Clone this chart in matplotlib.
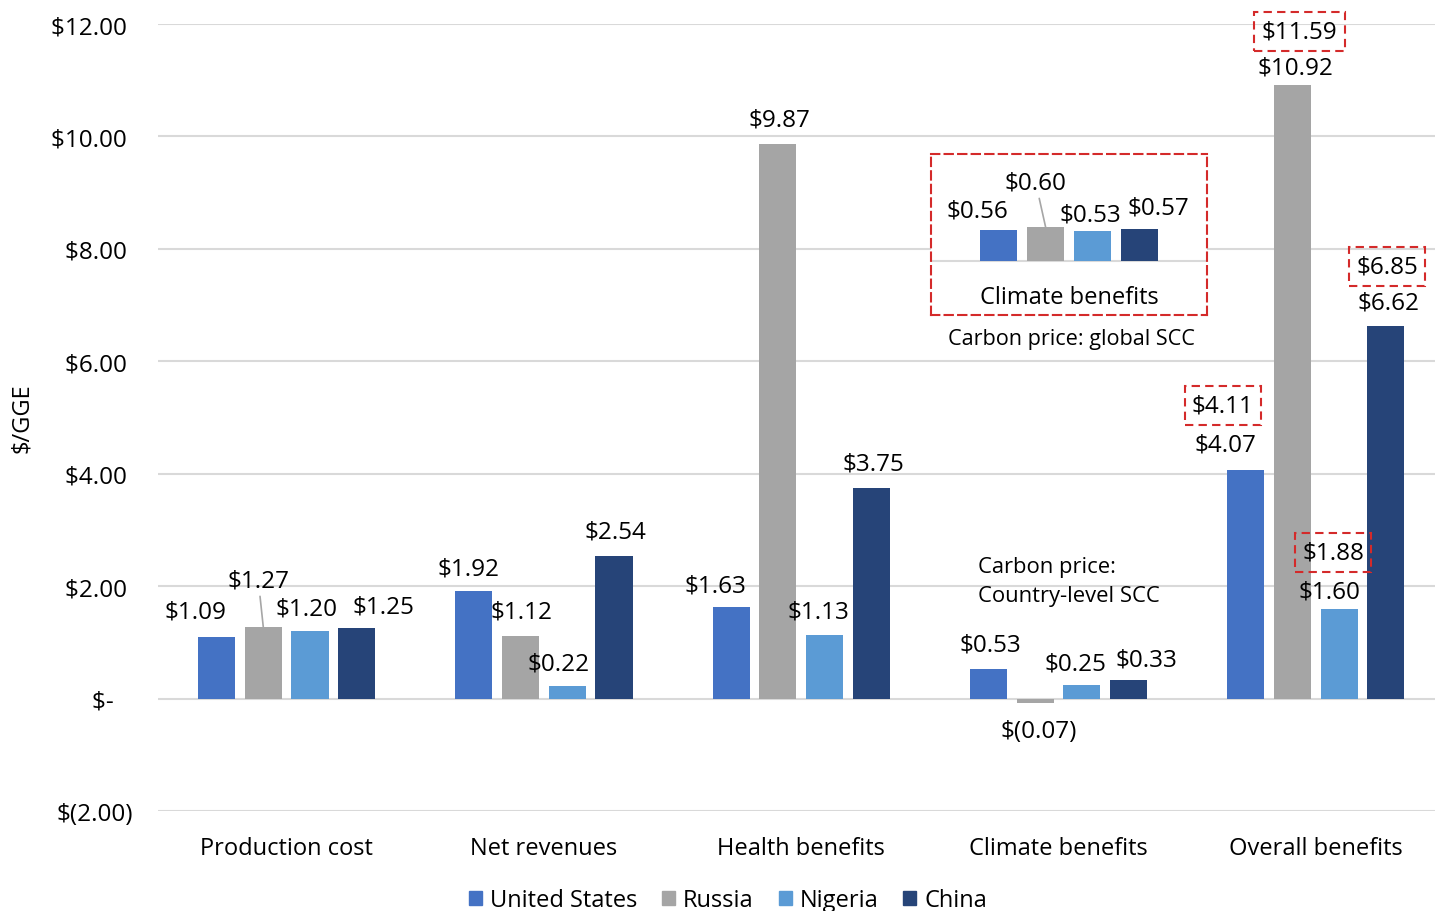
import numpy as np
import matplotlib.pyplot as plt
from matplotlib.patches import Patch

plt.rcParams['font.family'] = ['Open Sans', 'DejaVu Sans']
plt.rcParams['font.size'] = 17.5

categories = ['Production cost', 'Net revenues', 'Health benefits', 'Climate benefits', 'Overall benefits']
countries = ['United States', 'Russia', 'Nigeria', 'China']
colors = ['#4472C4', '#A5A5A5', '#5B9BD5', '#264478']

# $/GGE, carbon priced with the country-level SCC
values = {
    'United States': [1.09, 1.92, 1.63, 0.53, 4.07],
    'Russia':        [1.27, 1.12, 9.87, -0.07, 10.92],
    'Nigeria':       [1.20, 0.22, 1.13, 0.25, 1.60],
    'China':         [1.25, 2.54, 3.75, 0.33, 6.62],
}
# same quantities with the global SCC
climate_global = [0.56, 0.60, 0.53, 0.57]
overall_global = [4.11, 11.59, 1.88, 6.85]

yticks = [-2, 0, 2, 4, 6, 8, 10, 12]
ytick_labels = ['$(2.00)', '$-   ', '$2.00 ', '$4.00 ', '$6.00 ', '$8.00 ', '$10.00 ', '$12.00 ']

# label offsets in pixels from the bar end: (dx, dy) per country, per category
label_offsets = {
    'United States': [(-21, 26), (-5, 22), (-16, 21), (2, 24), (-20, 25)],
    'Russia':        [(-5, 47), (1, 24), (2, 24), (3, -28), (3, 17)],
    'Nigeria':       [(-3, 23), (-9, 23), (-6, 24), (-6, 21), (-10, 17)],
    'China':         [(27, 22), (1, 24), (2, 24), (18, 21), (3, 24)],
}
global_offsets = [(-23, 64), (7, 53), (-6, 56), (1, 60)]
inset_offsets = [(-22, 19), (-10, 45), (-2, 17), (19, 21)]

W, H = 1435, 912
RED = '#D42A2A'
GRID = '#D9D9D9'
LEAD = dict(arrowstyle='-', color='#A6A6A6', lw=1.2, shrinkA=1, shrinkB=0)


def fmt(v):
    return f'$({abs(v):.2f})' if v < 0 else f'${v:.2f}'


fig = plt.figure(figsize=(W / 100, H / 100), dpi=100)
ax = fig.add_axes([158 / W, 100 / H, 1286.5 / W, 787 / H])

x = np.arange(len(categories))
step, width = 0.1815, 0.144
for i, c in enumerate(countries):
    pos = x + (i - 1.5) * step
    ax.bar(pos, values[c], width, color=colors[i], zorder=3)
    for j, v in enumerate(values[c]):
        dx, dy = label_offsets[c][j]
        ax.annotate(fmt(v), xy=(pos[j], v), xytext=(dx, dy), textcoords='offset pixels',
                    ha='center', va='center', zorder=5,
                    arrowprops=LEAD if dy > 40 else None)
    # global-SCC overall benefits in dashed boxes
    dx, dy = global_offsets[i]
    ax.annotate(fmt(overall_global[i]), xy=(pos[-1], values[c][-1]), xytext=(dx, dy),
                textcoords='offset pixels', ha='center', va='center', zorder=6,
                bbox=dict(boxstyle='square,pad=0.3', fc='none', ec=RED,
                          ls=(0, (4, 2.5)), lw=1.5))

ax.set_xlim(-0.5, 4.5)
ax.set_ylim(-2, 12)
ax.set_yticks(yticks)
ax.set_yticklabels(ytick_labels)
ax.set_xticks(x)
ax.set_xticklabels(categories, fontsize=17)
ax.tick_params(length=0)
ax.tick_params(axis='x', pad=18)
ax.tick_params(axis='y', pad=18)
ax.grid(axis='y', color=GRID, lw=1.5, zorder=0)
for s in ax.spines.values():
    s.set_visible(False)
ax.set_ylabel('$/GGE', fontsize=17)
ax.yaxis.set_label_coords(-0.096, 0.5)

fig.text(978 / W, 1 - 582 / H, 'Carbon price:\nCountry-level SCC', ha='left', va='center',
         fontsize=15.8, linespacing=1.45)

# inset: climate benefits priced with the global SCC
axi = fig.add_axes([931 / W, (H - 316) / H, 276 / W, 161 / H])
axi.set_facecolor('white')
axi.set_zorder(5)
half = 138 / 257.3
axi.set_xlim(-half, half)
axi.set_ylim(-54 / 56.25, 107 / 56.25)
axi.axhline(0, color=GRID, lw=1.5, zorder=0)
for i, v in enumerate(climate_global):
    p = (i - 1.5) * step
    axi.bar(p, v, width, color=colors[i], zorder=3)
    dx, dy = inset_offsets[i]
    axi.annotate(fmt(v), xy=(p, v), xytext=(dx, dy), textcoords='offset pixels',
                 ha='center', va='center', arrowprops=LEAD if dy > 40 else None)
axi.text(0, -36 / 56.25, 'Climate benefits', ha='center', va='center', fontsize=17)
axi.set_xticks([])
axi.set_yticks([])
for s in axi.spines.values():
    s.set_color(RED)
    s.set_linestyle((0, (4, 2.5)))
    s.set_linewidth(1.5)
fig.text(1071 / W, 1 - 340 / H, 'Carbon price: global SCC', ha='center', va='center',
         fontsize=15.6)

handles = [Patch(color=colors[i], label=c) for i, c in enumerate(countries)]
fig.legend(handles=handles, loc='center', bbox_to_anchor=(728 / W, 1 - 901 / H), ncol=4,
           frameon=False, fontsize=17, handlelength=0.55, handleheight=0.55,
           handletextpad=0.35, columnspacing=1.05)

fig.savefig('out.png', dpi=100)
